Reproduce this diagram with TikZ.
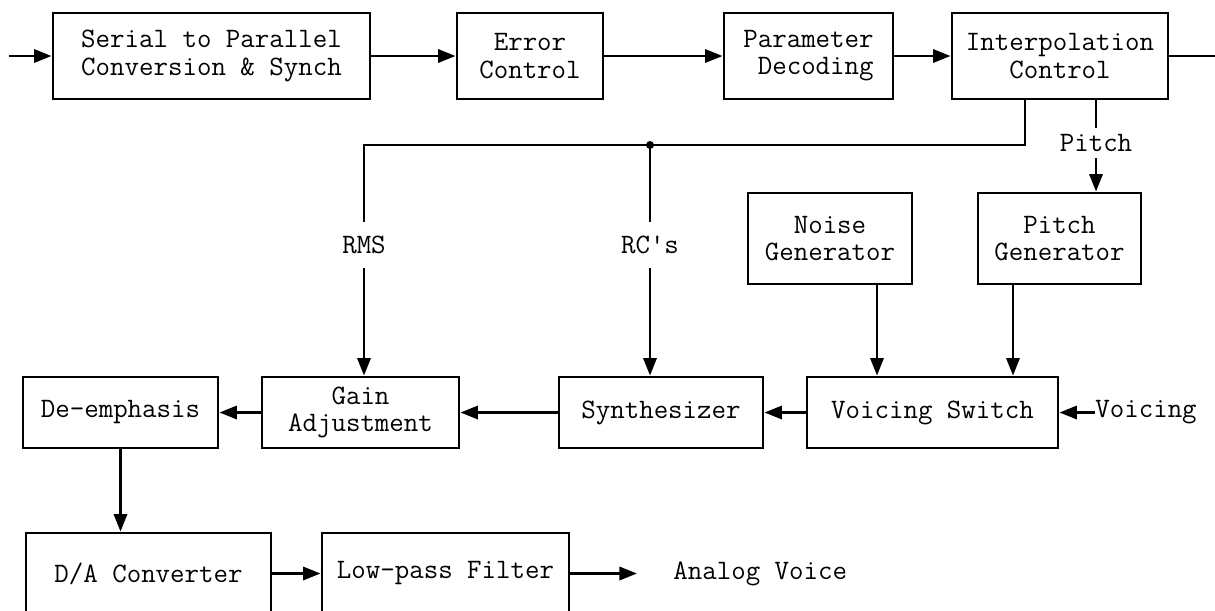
\documentclass[tikz,border=0pt]{standalone}
\usetikzlibrary{arrows.meta, positioning, calc}
\newcommand{\boxfont}{\fontsize{16}{15.5}\selectfont\ttfamily}

\begin{document}
\begin{tikzpicture}[
    block/.style={
        rectangle,
        draw=#1,
        line width=1.6pt,
        text=#1,
        font=\boxfont,
        align=center,
        inner sep=2pt
    },
    block/.default=black,
    lbl/.style={
        rectangle,
        inner sep=1pt,
        minimum height=#1,
        font=\boxfont
    },
    lbl/.default=0.9cm,
    flow/.style={
        line width=1.6pt,
        #1
    },
    flow/.default=black,
    arrow/.style={
        -{Triangle[length=10pt,width=7.5pt]},
        line width=1.6pt,
        #1
    },
    arrow/.default=black,
]
\useasboundingbox (0,0) rectangle (24.3,-12.2);

% receiver chain
\node[block, minimum width=6.34cm, minimum height=1.72cm] (serial) at (4.23,-1.12) {Serial to Parallel\\Conversion \& Synch};
\node[block, minimum width=2.92cm, minimum height=1.72cm] (errctl) at (10.6,-1.12) {Error\\Control};
\node[block, minimum width=3.38cm, minimum height=1.72cm, align=right] (paramdec) at (16.17,-1.12) {Parameter\\Decoding};
\node[block, minimum width=4.32cm, minimum height=1.72cm] (interp) at (21.2,-1.12) {Interpolation\\Control};

\coordinate (din) at (0.18,-1.12);
\coordinate (dout) at (24.3,-1.12);

% excitation
\node[block, minimum width=3.28cm, minimum height=1.82cm] (noisegen) at (16.6,-4.77) {Noise\\Generator};
\node[block, minimum width=3.26cm, minimum height=1.82cm] (pitchgen) at (21.19,-4.77) {Pitch\\Generator};

% synthesis row
\node[block, minimum width=3.9cm, minimum height=1.42cm] (deemph) at (2.41,-8.25) {De-emphasis};
\node[block, minimum width=3.94cm, minimum height=1.42cm] (gain) at (7.21,-8.25) {Gain\\Adjustment};
\node[block, minimum width=4.08cm, minimum height=1.42cm] (synth) at (13.22,-8.25) {Synthesizer};
\node[block, minimum width=5.02cm, minimum height=1.42cm] (voicing) at (18.65,-8.25) {Voicing Switch};
\node[lbl, anchor=west, inner sep=0pt] (voicein) at (21.9,-8.25) {Voicing};

% output
\node[block, minimum width=4.9cm, minimum height=1.62cm] (da) at (2.97,-11.47) {D/A Converter};
\node[block, minimum width=4.94cm, minimum height=1.62cm] (lpf) at (8.91,-11.47) {Low-pass Filter};
\node[lbl, anchor=west, inner sep=0pt] (analog) at (13.46,-11.47) {Analog Voice};

% parameter bus
\coordinate (bus_r) at ([xshift=-0.7cm]interp.south |- 0,-2.9);
\coordinate (junc) at (13.0,-2.9);
\coordinate (bus_l) at (7.28,-2.9);
\node[lbl] (rms) at (7.28,-4.9) {RMS};
\node[lbl] (rcs) at (13.0,-4.9) {RC\textquotesingle s};
\node[lbl=0.58cm] (pitchlbl) at ([xshift=0.72cm]interp.south |- 0,-2.86) {Pitch};

% chain arrows
\draw[arrow] (din) -- (serial);
\draw[arrow] (serial) -- (errctl);
\draw[arrow] (errctl) -- (paramdec);
\draw[arrow] (paramdec) -- (interp);
\draw[flow] (interp) -- (dout);

% bus lines
\draw[flow] ([xshift=-0.7cm]interp.south) -- (bus_r) -- (bus_l) -- (rms);
\draw[arrow] (rms) -- (gain.north -| bus_l);
\draw[flow] (junc) -- (rcs);
\draw[arrow] (rcs) -- (synth.north -| junc);
\fill (junc) circle (0.08);

\draw[flow] (interp.south -| pitchlbl) -- (pitchlbl);
\draw[arrow] (pitchlbl) -- (pitchgen.north -| pitchlbl);

% excitation into switch
\draw[arrow] ([xshift=0.94cm]noisegen.south) -- ([xshift=0.94cm]noisegen.south |- voicing.north);
\draw[arrow] ([xshift=-0.93cm]pitchgen.south) -- ([xshift=-0.93cm]pitchgen.south |- voicing.north);
\draw[arrow] (voicein) -- (voicing);

% synthesis arrows
\draw[arrow] (voicing) -- (synth);
\draw[arrow] (synth) -- (gain);
\draw[arrow] (gain) -- (deemph);
\draw[arrow] (deemph.south) -- (deemph.south |- da.north);

\draw[arrow] (da) -- (lpf);
\draw[arrow, shorten >=0.72cm] (lpf) -- (analog);

\end{tikzpicture}
\end{document}
